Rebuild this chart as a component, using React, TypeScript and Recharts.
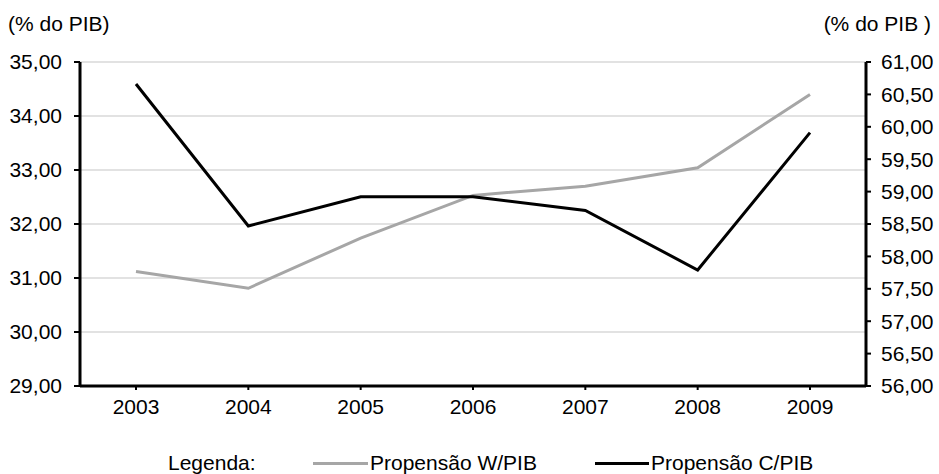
import { CartesianGrid, Line, LineChart, XAxis, YAxis } from 'recharts';

const YEARS = ['2003', '2004', '2005', '2006', '2007', '2008', '2009'];
const W_PIB = [31.12, 30.81, 31.74, 32.53, 32.7, 33.04, 34.4];
const C_PIB = [60.66, 58.47, 58.92, 58.92, 58.71, 57.79, 59.91];
const LEFT_TICKS = [29, 30, 31, 32, 33, 34, 35];
const RIGHT_TICKS = [56, 56.5, 57, 57.5, 58, 58.5, 59, 59.5, 60, 60.5, 61];

const GRAY = '#a6a6a6';
const FONT = '"Liberation Sans", Arial, sans-serif';

const chartData = YEARS.map((year, i) => ({ year, w: W_PIB[i], c: C_PIB[i] }));

const fmt = (v: number) => v.toFixed(2).replace('.', ',');
const tickStyle = { fontSize: 21, fill: '#000', fontFamily: FONT };
const axisLine = { stroke: '#000', strokeWidth: 3 };
const tickLine = { stroke: '#000', strokeWidth: 2 };

export default function App() {
  return (
    <div style={{ position: 'absolute', left: 0, top: 0, width: 939, height: 474, fontFamily: FONT, fontSize: 21, background: '#fff', overflow: 'hidden' }}>
      <LineChart width={939} height={474} data={chartData} margin={{ top: 62, right: 0, left: 0, bottom: 58 }}>
        <CartesianGrid vertical={false} yAxisId="left" stroke="#d9d9d9" strokeWidth={1.5} />
        <XAxis
          dataKey="year"
          padding={{ left: 56, right: 56 }}
          axisLine={axisLine}
          tickLine={tickLine}
          tickSize={4}
          tickMargin={9}
          height={30}
          tick={tickStyle}
        />
        <YAxis
          yAxisId="left"
          domain={[29, 35]}
          ticks={LEFT_TICKS}
          tickFormatter={fmt}
          width={80}
          axisLine={axisLine}
          tickLine={tickLine}
          tickSize={6}
          tickMargin={12}
          tick={tickStyle}
          interval={0}
        />
        <YAxis
          yAxisId="right"
          orientation="right"
          domain={[56, 61]}
          ticks={RIGHT_TICKS}
          tickFormatter={fmt}
          width={73}
          axisLine={axisLine}
          tickLine={tickLine}
          tickSize={5}
          tickMargin={10}
          tick={tickStyle}
          interval={0}
        />
        <Line yAxisId="left" dataKey="w" stroke={GRAY} strokeWidth={3} dot={false} isAnimationActive={false} />
        <Line yAxisId="right" dataKey="c" stroke="#000" strokeWidth={3} dot={false} isAnimationActive={false} />
      </LineChart>
      <div style={{ position: 'absolute', left: 8, top: 12 }}>(% do PIB)</div>
      <div style={{ position: 'absolute', right: 8, top: 12 }}>(% do PIB )</div>
      <div style={{ position: 'absolute', left: 168, top: 451 }}>Legenda:</div>
      <div style={{ position: 'absolute', left: 313, top: 451, display: 'flex', alignItems: 'center' }}>
        <span style={{ display: 'inline-block', width: 55, height: 3, background: GRAY, marginRight: 2 }} />
        Propensão W/PIB
      </div>
      <div style={{ position: 'absolute', left: 595, top: 451, display: 'flex', alignItems: 'center' }}>
        <span style={{ display: 'inline-block', width: 54, height: 3, background: '#000', marginRight: 2 }} />
        Propensão C/PIB
      </div>
    </div>
  );
}
